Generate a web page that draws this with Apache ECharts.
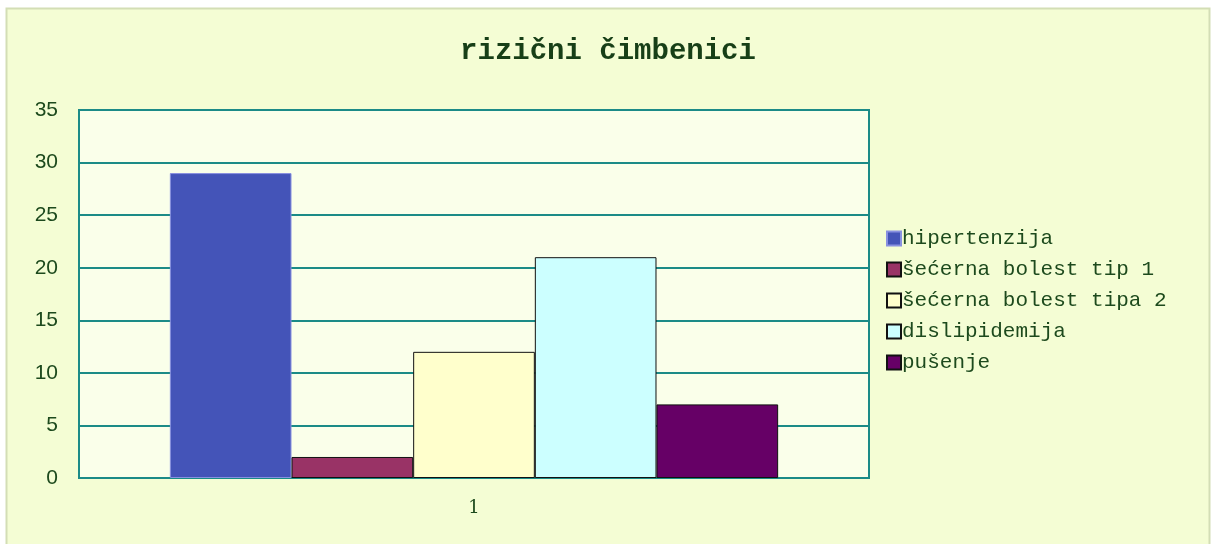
<!DOCTYPE html>
<html>
<head>
<meta charset="utf-8">
<style>
html,body{margin:0;padding:0;background:#ffffff;}
#c{width:1216px;height:544px;}
</style>
<script src="https://cdn.jsdelivr.net/npm/echarts@6/dist/echarts.min.js"></script>
</head>
<body>
<div id="c"></div>
<script>
var categories = ['1'];
var seriesNames = ['hipertenzija', 'šećerna bolest tip 1', 'šećerna bolest tipa 2', 'dislipidemija', 'pušenje'];
var seriesValues = [[29], [2], [12], [21], [7]];
var seriesColors = ['#4454B8', '#993366', '#FFFFCC', '#CCFFFF', '#660066'];
var yTicks = [0, 5, 10, 15, 20, 25, 30, 35];

var chart = echarts.init(document.getElementById('c'));
var textColor = '#1D4A1D';
var series = seriesNames.map(function (n, i) {
  return {
    name: n,
    type: 'bar',
    data: seriesValues[i],
    barGap: '0%',
    barCategoryGap: '23%',
    itemStyle: {
      color: seriesColors[i],
      borderColor: i === 0 ? '#8890E0' : '#111111',
      borderWidth: 1
    }
  };
});
chart.setOption({
  animation: false,
  backgroundColor: '#ffffff',
  graphic: [{
    type: 'rect',
    z: -10,
    shape: { x: 6.5, y: 8.5, width: 1203, height: 540 },
    style: { fill: '#F4FDD4', stroke: '#D3DEB5', lineWidth: 2 }
  }],
  title: {
    text: 'rizični čimbenici',
    left: 'center',
    top: 32,
    textStyle: { fontFamily: 'Liberation Mono', fontWeight: 'bold', fontSize: 29, color: '#173F17' }
  },
  legend: {
    orient: 'vertical',
    left: 881,
    top: 223,
    itemWidth: 14,
    itemHeight: 14,
    itemGap: 10,
    icon: 'rect',
    textStyle: { fontFamily: 'Liberation Mono', fontSize: 21, lineHeight: 21, color: textColor, padding: [0, 0, 0, -4] },
    data: seriesNames
  },
  grid: {
    left: 79, top: 110, width: 790, height: 368,
    show: true, backgroundColor: '#FAFFEA', borderColor: '#1B8B87', borderWidth: 2,
    containLabel: false
  },
  xAxis: {
    type: 'category',
    data: categories,
    axisLine: { lineStyle: { color: '#1B8B87', width: 2 } },
    axisTick: { show: false },
    axisLabel: { fontFamily: 'DejaVu Serif', fontSize: 18, color: textColor, margin: 21 }
  },
  yAxis: {
    type: 'value',
    min: 0, max: 35, interval: 5,
    axisLine: { show: true, lineStyle: { color: '#1B8B87', width: 2 } },
    axisTick: { show: false },
    splitLine: { lineStyle: { color: '#1B8B87', width: 2 } },
    axisLabel: { fontFamily: 'Liberation Sans', fontSize: 21, color: textColor, margin: 21,
      formatter: function (v) { return yTicks.indexOf(v) >= 0 ? String(v) : ''; } }
  },
  series: series
});
</script>
</body>
</html>
